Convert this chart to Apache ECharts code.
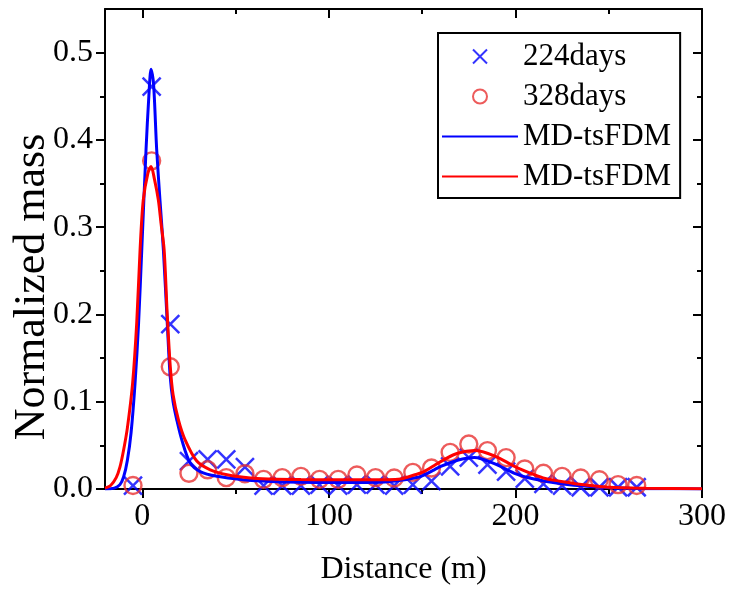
<!DOCTYPE html>
<html>
<head>
<meta charset="utf-8">
<script src="https://cdn.jsdelivr.net/npm/echarts@6/dist/echarts.min.js"></script>
<style>html,body{margin:0;padding:0;background:#fff}#c{width:730px;height:593px}</style>
</head>
<body>
<div id="c"></div>
<script>
// ---- data ----
const pointX = [-5,5,15,25,35,45,55,65,75,85,95,105,115,125,135,145,155,165,175,185,195,205,215,225,235,245,255,265];
const days224 = [0.004,0.461,0.189,0.032,0.034,0.034,0.025,0.004,0.004,0.004,0.005,0.004,0.005,0.005,0.004,0.005,0.009,0.026,0.036,0.028,0.020,0.012,0.006,0.004,0.002,0.002,0.002,0.002];
const days328 = [0.004,0.376,0.140,0.018,0.022,0.013,0.0175,0.011,0.013,0.0145,0.011,0.011,0.016,0.013,0.0126,0.019,0.024,0.042,0.0515,0.044,0.036,0.023,0.018,0.0145,0.0126,0.0106,0.005,0.004];

const fit224X = [-20,-15,-12,-10,-8,-6,-3.9,-2,-0.3,2,3.5,4.7,6,7.7,9.5,11.3,13.4,14.9,16.5,18.5,21.2,25.6,31,40,54,69,85,100,115,130,138.5,145.7,149.3,156.5,160,169,178,188.7,199.5,210,224.6,240,260,280,300];
const fit224Y = [0,0.001,0.005,0.014,0.033,0.065,0.121,0.19,0.274,0.389,0.45,0.481,0.465,0.389,0.33,0.274,0.189,0.13,0.1,0.079,0.056,0.030,0.020,0.0145,0.0107,0.0087,0.0078,0.0075,0.0075,0.008,0.0099,0.0126,0.0145,0.022,0.026,0.033,0.036,0.029,0.018,0.0115,0.006,0.003,0.001,0.0003,0];

const fit328X = [-20,-17,-14,-12,-10,-8,-5.2,-3,-1.2,0.5,3,4.7,6.5,8.6,10,11.7,13.4,15,16.5,19.4,23,29.2,36.4,45.4,57.9,68.7,85,100,115,130,138.5,145.7,150,156.5,162,169,178,188.7,199.5,210,216,224.6,232,250,270,300];
const fit328Y = [0.001,0.004,0.013,0.025,0.045,0.07,0.121,0.19,0.274,0.331,0.362,0.3695,0.355,0.331,0.305,0.274,0.198,0.14,0.108,0.079,0.056,0.032,0.022,0.0164,0.0126,0.0115,0.0108,0.0106,0.0106,0.0107,0.0115,0.016,0.019,0.027,0.034,0.041,0.044,0.038,0.026,0.0164,0.012,0.0087,0.006,0.002,0.0008,0.0003];

const xMajor = [0,100,200,300];
const xMinor = [50,150,250];
const yMajor = [0,0.1,0.2,0.3,0.4,0.5];
const yMinor = [0.05,0.15,0.25,0.35,0.45];

const seriesNames = ['224days','328days','MD-tsFDM','MD-tsFDM '];
// ---- chart ----
const zip = (xs, ys) => xs.map((x, i) => [x, ys[i]]);
const FONT = 'Liberation Serif';
const FS = 32;
function line(show) { return {show:show, onZero:false, lineStyle:{color:'#000', width:2}}; }
function xAx(pos, ticks, len, inside, labels, showLine) {
  return {type:'value', min:-20, max:300, position:pos, splitLine:{show:false},
    axisLine: line(showLine),
    axisTick:{show:true, customValues:ticks, length:len, inside:inside, lineStyle:{color:'#000', width:2}},
    axisLabel: labels ? {show:true, customValues:ticks, fontSize:FS, fontFamily:FONT, color:'#000', margin:12} : {show:false}};
}
function yAx(pos, ticks, len, inside, labels, showLine) {
  return {type:'value', min:0, max:0.55, position:pos, splitLine:{show:false},
    axisLine: line(showLine),
    axisTick:{show:true, customValues:ticks, length:len, inside:inside, lineStyle:{color:'#000', width:2}},
    axisLabel: labels ? {show:true, customValues:ticks, fontSize:FS, fontFamily:FONT, color:'#000', margin:12,
      formatter:v => v.toFixed(1)} : {show:false}};
}
const x0 = xAx('bottom', xMajor, 9, false, true, true);
x0.name = 'Distance (m)'; x0.nameLocation = 'middle'; x0.nameGap = 65; x0.nameMoveOverlap = false;
x0.nameTextStyle = {fontSize:FS, fontFamily:FONT, color:'#000'};
const y0 = yAx('left', yMajor, 9, false, true, true);
y0.name = 'Normalized mass'; y0.nameLocation = 'middle'; y0.nameGap = 51; y0.nameMoveOverlap = false;
y0.nameTextStyle = {fontSize:44, fontFamily:FONT, color:'#000', padding:[0,76,0,0]};

const chart = echarts.init(document.getElementById('c'), null, {renderer:'canvas'});
chart.setOption({
  animation:false,
  backgroundColor:'#fff',
  grid:{left:105, right:28, top:9, bottom:104, containLabel:false, outerBoundsMode:'none'},
  xAxis:[x0, xAx('bottom', xMinor, 5, false, false, false), xAx('top', xMajor, 9, true, false, true), xAx('top', xMinor, 5, true, false, false)],
  yAxis:[y0, yAx('left', yMinor, 5, false, false, false), yAx('right', yMajor, 9, true, false, true), yAx('right', yMinor, 5, true, false, false)],
  legend:{
    orient:'vertical', left:438, top:33,
    data:[
      {name:seriesNames[0]},
      {name:seriesNames[1]},
      {name:seriesNames[2], itemStyle:{opacity:0}},
      {name:seriesNames[3], itemStyle:{opacity:0}}
    ],
    formatter: n => n.trim(),
    itemWidth:76, itemHeight:14, itemGap:9,
    padding:[8,9,6,3],
    borderColor:'#000', borderWidth:2,
    textStyle:{fontSize:31, fontFamily:FONT, color:'#000', lineHeight:30}
  },
  series:[
    {name:seriesNames[0], type:'scatter', data:zip(pointX, days224),
     symbol:'path://M0,0L10,10M10,0L0,10', symbolSize:18,
     itemStyle:{color:'rgba(0,0,0,0)', borderColor:'#0000ff', borderWidth:2.5}},
    {name:seriesNames[1], type:'scatter', data:zip(pointX, days328),
     symbol:'circle', symbolSize:17,
     itemStyle:{color:'rgba(0,0,0,0)', borderColor:'#e83232', borderWidth:2.4}},
    {name:seriesNames[2], type:'line', data:zip(fit224X, fit224Y), symbol:'none', smooth:0.3,
     lineStyle:{color:'#0000ff', width:3}, itemStyle:{color:'#0000ff'}},
    {name:seriesNames[3], type:'line', data:zip(fit328X, fit328Y), symbol:'none', smooth:0.3,
     lineStyle:{color:'#ff0000', width:3}, itemStyle:{color:'#ff0000'}}
  ]
});
</script>
</body>
</html>
